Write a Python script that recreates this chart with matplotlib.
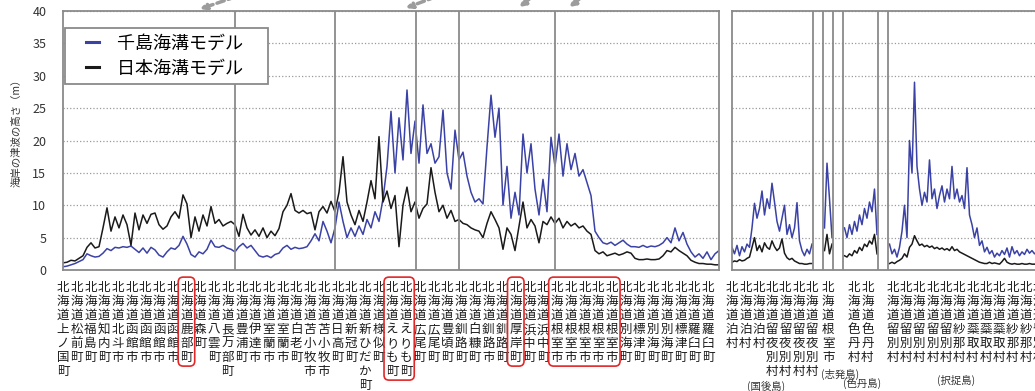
import numpy as np
import matplotlib
matplotlib.use('Agg')
import matplotlib.pyplot as plt
from matplotlib.patches import FancyBboxPatch, FancyArrowPatch
from matplotlib.transforms import IdentityTransform
from matplotlib.legend_handler import HandlerLine2D

plt.rcParams['font.family'] = ['Noto Sans CJK JP', 'DejaVu Sans']

# 左：北海道の太平洋沿岸（上ノ国町〜羅臼町）
chishima_left = [
    0.5, 0.6, 0.8, 1.0, 1.3, 1.6, 2.5, 2.2, 2.0, 2.1,
    2.6, 3.3, 3.0, 3.5, 3.4, 3.6, 3.5, 3.7, 3.2, 2.7,
    3.4, 2.6, 3.5, 3.1, 2.3, 2.0, 2.8, 3.4, 3.2, 3.8,
    5.2, 4.0, 2.4, 2.0, 2.8, 2.5, 3.2, 4.6, 3.6, 3.5,
    3.8, 3.4, 3.2, 2.8, 3.6, 4.1, 3.4, 3.8, 3.0, 2.2,
    2.0, 2.2, 1.9, 2.4, 2.6, 3.4, 3.8, 3.2, 3.5, 3.3,
    3.4, 3.6, 4.5, 5.6, 4.5, 7.5, 6.0, 4.2, 6.5, 10.5,
    7.5, 5.0, 6.5, 5.2, 6.8, 5.5, 7.8, 6.5, 9.0, 7.5,
    11.0, 16.0, 24.5, 15.0, 23.5, 17.0, 27.8, 18.0, 23.0, 16.5,
    25.5, 18.0, 19.5, 16.5, 17.5, 24.7, 15.0, 12.5, 21.6, 17.0,
    18.2, 14.5, 12.0, 10.5, 11.0, 10.2, 19.0, 27.0, 20.5, 25.0,
    10.0, 16.0, 8.0, 12.0, 8.5, 21.0, 15.0, 19.5, 12.5, 8.5,
    14.0, 9.0, 20.5, 16.0, 21.0, 14.5, 19.5, 15.5, 18.0, 14.5,
    15.5, 13.5, 11.5, 6.0, 5.0, 4.2, 4.0, 4.3, 3.8, 4.2,
    4.6, 4.0, 3.6, 3.6, 3.5, 3.8, 3.5, 3.7, 3.6, 3.8,
    4.2, 5.0, 4.2, 6.5, 4.5, 5.8, 4.0, 2.8, 2.0, 2.5,
    1.8, 2.8, 1.6, 2.5, 3.0]
japan_left = [
    1.1, 1.2, 1.5, 1.4, 1.8, 2.2, 3.5, 4.2, 3.4, 3.6,
    6.5, 9.6, 6.0, 8.2, 6.5, 8.5, 7.0, 3.8, 8.8, 6.2,
    8.5, 7.2, 8.6, 8.8, 7.0, 6.3, 6.8, 8.2, 9.0, 8.0,
    11.6, 10.2, 5.0, 8.2, 6.0, 8.5, 6.8, 9.8, 7.2, 7.8,
    6.8, 7.2, 7.5, 7.0, 5.2, 8.6, 6.5, 5.4, 6.2, 5.2,
    6.5, 5.0, 6.0, 5.3, 6.4, 9.0, 10.0, 11.8, 9.2, 8.8,
    9.2, 8.7, 8.9, 6.2, 9.0, 9.8, 8.8, 10.6, 9.0, 12.0,
    17.5, 10.5, 8.5, 7.0, 9.2, 7.5, 10.5, 13.8, 11.0, 20.6,
    10.5, 12.2, 9.5, 11.5, 3.6, 10.0, 12.8, 9.0, 10.5, 8.0,
    9.5, 10.2, 15.8, 12.0, 9.0, 10.0, 8.0, 9.2, 7.5, 7.8,
    7.2, 7.0, 6.5, 6.2, 6.0, 5.0, 7.2, 9.0, 7.8, 6.5,
    3.2, 6.5, 5.5, 3.0, 6.8, 10.5, 6.5, 7.8, 6.8, 4.2,
    7.5, 7.0, 8.2, 7.2, 8.0, 6.5, 7.5, 6.8, 7.2, 6.5,
    6.8, 6.0, 5.5, 3.0, 2.5, 2.8, 2.2, 2.4, 2.6, 2.3,
    2.5, 2.8, 2.6, 1.8, 1.6, 1.6, 1.7, 1.6, 1.6, 1.7,
    2.2, 3.0, 2.8, 3.5, 3.0, 2.6, 2.2, 1.5, 1.2, 1.0,
    1.0, 0.9, 0.9, 0.8, 0.8]

left_places = ['上ノ国町', '松前町', '福島町', '知内町', '北斗市', '函館市', '函館市',
               '函館市', '函館市', '鹿部町', '森町', '八雲町', '長万部町', '豊浦町',
               '伊達市', '室蘭市', '室蘭市', '白老町', '苫小牧市', '苫小牧市', '日高町',
               '新冠町', '新ひだか町', '様似町', 'えりも町', 'えりも町', '広尾町', '広尾町',
               '豊頃町', '釧路町', '白糠町', '釧路市', '釧路町', '厚岸町', '浜中町',
               '浜中町', '根室市', '根室市', '根室市', '根室市', '根室市', '別海町',
               '標津町', '別海町', '別海町', '標津町', '羅臼町', '羅臼町']
left_dividers = [43, 68, 88.25, 99, 123]
highlight_groups = [(9, 9), (24, 25), (33, 33), (36, 40)]

# 右：北方領土（国後島・志発島・色丹島・択捉島）
chishima_right = [
    [3.5, 2.5, 3.8, 2.2, 3.6, 2.8, 4.0, 3.5, 6.5, 10.3,
     8.0, 9.5, 12.2, 8.5, 11.0, 9.5, 13.4, 10.5, 7.5, 6.0,
     8.0, 10.0, 5.5, 7.0, 5.0, 6.5, 10.4, 4.5, 3.0, 2.2,
     3.2, 2.5, 4.0],
    [6.5, 16.5, 11.0, 5.0],
    [6.5, 5.0, 7.0, 5.5, 7.5, 6.0, 8.5, 7.0, 9.5, 8.0, 10.5, 9.0, 12.5, 5.5],
    [4.0, 2.5, 3.2, 2.0, 3.5, 6.0, 10.0, 5.0, 20.0, 15.0,
     29.0, 16.0, 12.5, 10.0, 12.0, 10.5, 17.0, 11.0, 12.5, 9.5,
     11.5, 13.0, 10.5, 12.5, 11.0, 16.0, 11.0, 12.5, 10.5, 11.5,
     9.5, 15.8, 8.5, 7.0, 5.0, 6.5, 3.8, 4.5, 2.8, 3.5,
     2.5, 3.0, 2.0, 2.6, 2.2, 3.0, 2.4, 3.4, 2.0, 3.6,
     2.5, 3.0, 2.2, 2.8, 2.4, 3.2, 2.6, 3.0, 2.5, 2.8, 2.4, 3.0]]
japan_right = [
    [1.2, 1.4, 1.3, 1.6, 1.4, 1.5, 1.8, 2.0, 3.5, 5.0,
     3.0, 3.8, 2.8, 4.2, 3.5, 3.2, 4.5, 3.6, 3.0, 3.4,
     4.8, 2.6, 1.9, 1.6, 1.8, 1.4, 1.2, 1.0, 1.0, 0.9,
     0.9, 1.0, 1.0],
    [3.0, 5.5, 2.5, 4.0],
    [2.2, 2.0, 2.5, 2.2, 3.0, 2.6, 3.5, 3.0, 4.0, 3.6, 4.5, 4.0, 5.5, 2.5],
    [1.0, 1.2, 1.0, 1.3, 1.5, 1.8, 2.5, 2.0, 3.5, 4.0,
     5.3, 4.5, 3.8, 4.0, 3.6, 3.8, 3.5, 3.7, 3.3, 3.5,
     3.2, 3.4, 3.1, 3.3, 3.0, 3.6, 3.0, 3.2, 2.8, 2.6,
     2.4, 2.2, 2.0, 1.8, 1.6, 1.4, 1.2, 1.1, 1.0, 1.0,
     1.2, 1.0, 1.1, 1.0, 0.9, 1.3, 1.8, 1.2, 1.0, 0.9,
     1.0, 0.9, 0.9, 1.0, 0.9, 0.9, 1.0, 0.9, 0.9, 1.0, 0.9, 0.9]]
right_places = [
    ['泊村', '泊村', '泊村', '留夜別村', '留夜別村', '留夜別村', '留夜別村'],
    ['根室市'],
    ['色丹村', '色丹村'],
    ['留別村', '留別村', '留別村', '留別村', '留別村', '紗那村', '蘂取村', '蘂取村',
     '蘂取村', '紗那村', '紗那村', '留別村']]
islands = ['(国後島)', '(志発島)', '(色丹島)', '(択捉島)']

blue = '#3b42a6'
black = '#1a1a1a'
W, H = 1035, 391


def box(x0, y0, x1, y1):
    return [x0 / W, 1 - y1 / H, (x1 - x0) / W, (y1 - y0) / H]


def vlabel(name):
    return '\n'.join('北海道' + name)


fig = plt.figure(figsize=(W / 100, H / 100), dpi=100)
ax = fig.add_axes(box(63, 11, 719, 270))
ax2 = fig.add_axes(box(732, 11, 1100, 270))

for a in (ax, ax2):
    a.set_ylim(0, 40)
    a.set_yticks(range(0, 41, 5))
    a.grid(axis='y', linestyle=':', color='#9a9a9a', linewidth=0.9)
    a.set_axisbelow(True)
    for s in a.spines.values():
        s.set_color('#8a8a8a')
        s.set_linewidth(1.3)
    a.tick_params(length=0, pad=8, colors='#333333')

# left panel
x = np.arange(len(chishima_left))
ax.plot(x, chishima_left, color=blue, lw=1.1, label='千島海溝モデル\u3000')
ax.plot(x, japan_left, color=black, lw=1.1, label='日本海溝モデル\u3000')
for d in left_dividers:
    ax.axvline(d, color='#8a8a8a', lw=1.3)
ax.set_xlim(0, len(chishima_left) - 1)
ax.set_yticklabels([str(v) for v in range(0, 41, 5)], fontsize=9)
ax.tick_params(axis='y', pad=12)
left_ticks = np.arange(len(left_places)) * 3.43
ax.set_xticks(left_ticks)
ax.set_xticklabels([vlabel(p) for p in left_places], fontsize=9,
                   linespacing=1.1, va='top', color='#1c1c1c')

leg = ax.legend(loc='upper left', bbox_to_anchor=(0.003, 0.934), borderaxespad=0,
                fontsize=13, fancybox=False, edgecolor='#8a8a8a', framealpha=1,
                handlelength=1.55, handletextpad=1.0, borderpad=0.35, labelspacing=0.4,
                handler_map={plt.Line2D: HandlerLine2D(xpad=0.8)})
leg.get_frame().set_linewidth(1.3)
for h in leg.get_lines():
    h.set_linewidth(2.2)

# right panel
gap = 4
starts = []
pos = 0
for seg in chishima_right:
    starts.append(pos)
    pos += len(seg) + gap
right_ticks, right_labels = [], []
step = 5.33
for s, b, k, names in zip(starts, chishima_right, japan_right, right_places):
    xs = s + np.arange(len(b))
    ax2.plot(xs, b, color=blue, lw=1.1)
    ax2.plot(xs, k, color=black, lw=1.1)
    c = s + (len(b) - 1) / 2
    for i, n in enumerate(names):
        right_ticks.append(c + (i - (len(names) - 1) / 2) * step)
        right_labels.append(vlabel(n))
for s, b in zip(starts, chishima_right):
    if s > 0:
        ax2.axvline(s - 0.5, color='#8a8a8a', lw=1.3)
    if s != starts[-1]:
        ax2.axvline(s + len(b) - 0.5, color='#8a8a8a', lw=1.3)
ax2.set_xlim(0, 147.2)
ax2.tick_params(axis='y', labelleft=False)
ax2.set_xticks(right_ticks)
ax2.set_xticklabels(right_labels, fontsize=9, linespacing=1.1, va='top', color='#1c1c1c')

# y label
fig.text(17 / W, 1 - 130 / H, '海岸の津波の高さ（m）', rotation=90, fontsize=7.5,
         ha='center', va='center', color='#333333')

# island names
for name, (px, py) in zip(islands, [(766, 386), (840, 374), (862, 383), (956, 380)]):
    fig.text(px / W, 1 - py / H, name, fontsize=7.5, ha='center', va='center', color='#333333')

# red boxes around highlighted places
fig.canvas.draw()
labels = ax.get_xticklabels()
for g0, g1 in highlight_groups:
    bbs = [labels[i].get_window_extent() for i in range(g0, g1 + 1)]
    x0 = min(b.x0 for b in bbs) - 2
    x1 = max(b.x1 for b in bbs) + 2
    y0 = min(b.y0 for b in bbs) - 2
    y1 = max(b.y1 for b in bbs) + 4
    fig.add_artist(FancyBboxPatch((x0, y0), x1 - x0, y1 - y0,
                                  boxstyle='round,pad=0,rounding_size=5',
                                  transform=IdentityTransform(), fill=False,
                                  edgecolor='#e02828', lw=1.2))

# grey dashed arrow pieces at the top
for (xa, ya, xb, yb) in [(238, -4, 197, 10), (438, -4, 403, 9), (533, -4, 517, 9), (583, -4, 567, 9)]:
    fig.add_artist(FancyArrowPatch((xa, H - ya), (xb, H - yb), transform=IdentityTransform(),
                                   arrowstyle='-|>', mutation_scale=9, lw=2.5,
                                   linestyle=(0, (2.2, 1.2)), color='#9c9c9c'))

fig.savefig('out.png', dpi=100)
